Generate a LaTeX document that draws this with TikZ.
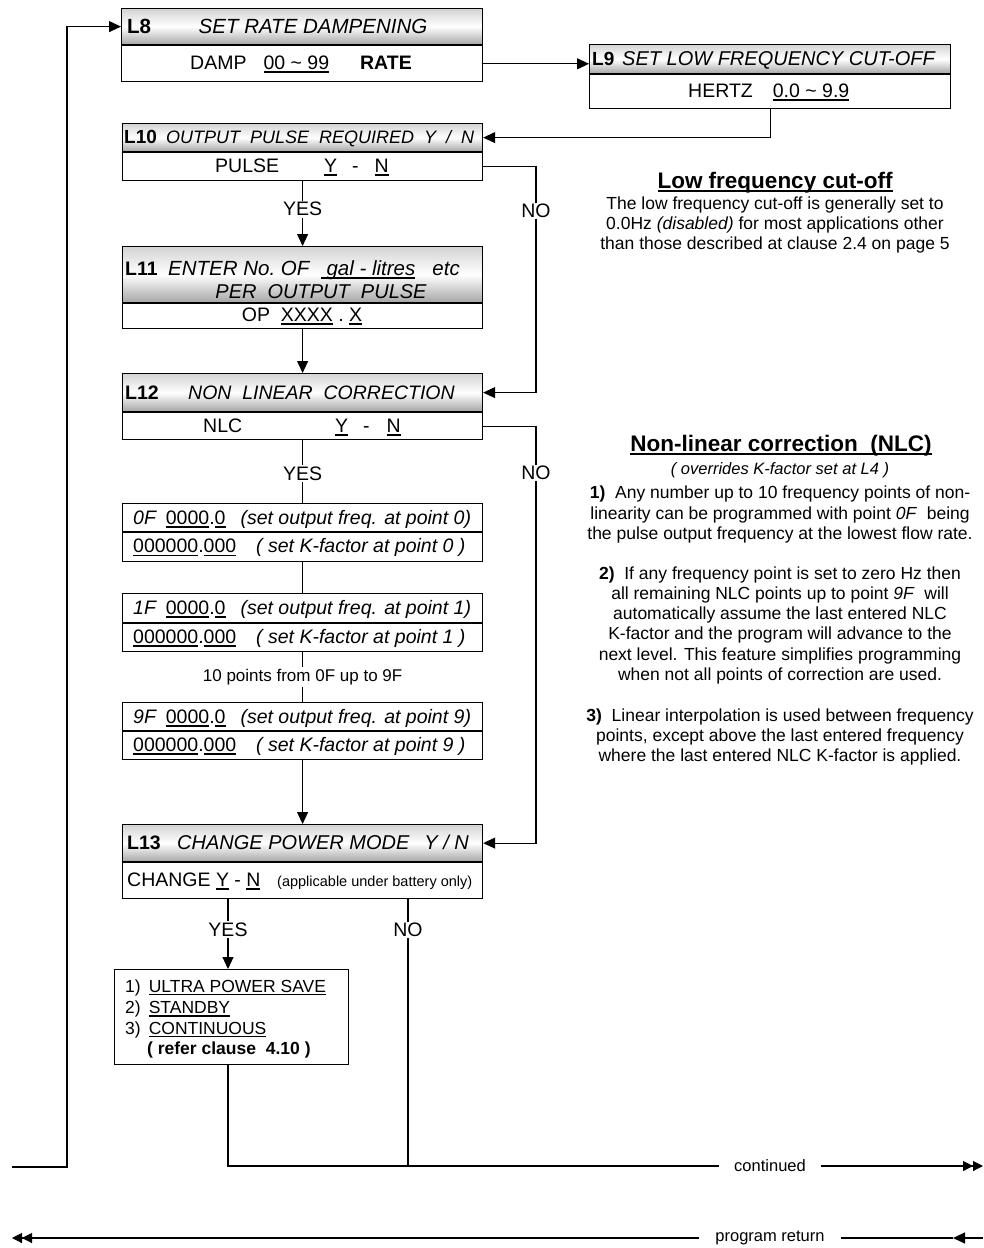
\documentclass[tikz,border=0pt]{standalone}
\usepackage{fontspec}
\setmainfont{Liberation Sans}
\usetikzlibrary{arrows.meta,calc}
\newsavebox\ulbx
\newcommand\ulx[1]{\sbox\ulbx{#1}\rlap{\vrule height -0.11em depth 0.19em width \wd\ulbx}\usebox\ulbx}
\newcommand\fs[1]{\fontsize{#1}{#1}\selectfont}
\tikzset{
 box/.style={draw, line width=1.2pt, inner sep=0pt, anchor=north west, fill=white},
 hbox/.style={box, top color=black!17, bottom color=black!35, middle color=white},
 tx/.style={inner sep=0pt, anchor=base},
 txw/.style={inner sep=0pt, anchor=base west},
 lbl/.style={fill=white, inner sep=1.5pt, font=\fs{19.5}},
 ln/.style={line width=1.1pt},
 arr/.style={ln, -{Triangle[length=12pt,width=11pt]}},
 dtip/.style={ln, -{Triangle[length=10pt,width=10pt]Triangle[length=10pt,width=10pt]}},
}
\begin{document}
\begin{tikzpicture}[x=1pt,y=-1pt]
\fill[white] (0,0) rectangle (983,1248);
\useasboundingbox (0,0) rectangle (983,1248);

% ---------- boxes ----------
\node[hbox, minimum width=361pt, minimum height=36pt] (L8h) at (121,8) {};
\node[box, minimum width=361pt, minimum height=36pt, anchor=north] (L8b) at (L8h.south) {};
\node[hbox, minimum width=361pt, minimum height=29pt] (L9h) at (589,44) {};
\node[box, minimum width=361pt, minimum height=34pt, anchor=north] (L9b) at (L9h.south) {};
\node[hbox, minimum width=360pt, minimum height=28pt] (L10h) at (122,123) {};
\node[box, minimum width=360pt, minimum height=28pt, anchor=north] (L10b) at (L10h.south) {};
\node[hbox, minimum width=360pt, minimum height=56pt] (L11h) at (122,246) {};
\node[box, minimum width=360pt, minimum height=25pt, anchor=north] (L11b) at (L11h.south) {};
\node[hbox, minimum width=360pt, minimum height=38pt] (L12h) at (122,373) {};
\node[box, minimum width=360pt, minimum height=27pt, anchor=north] (L12b) at (L12h.south) {};
\node[box, minimum width=360pt, minimum height=28pt] (F0a) at (122,503) {};
\node[box, minimum width=360pt, minimum height=29pt, anchor=north] (F0b) at (F0a.south) {};
\node[box, minimum width=360pt, minimum height=29pt] (F1a) at (122,593) {};
\node[box, minimum width=360pt, minimum height=28pt, anchor=north] (F1b) at (F1a.south) {};
\node[box, minimum width=360pt, minimum height=28pt] (F9a) at (122,702) {};
\node[box, minimum width=360pt, minimum height=28pt, anchor=north] (F9b) at (F9a.south) {};
\node[hbox, minimum width=360pt, minimum height=37pt] (L13h) at (122,824) {};
\node[box, minimum width=360pt, minimum height=36pt, anchor=north] (L13b) at (L13h.south) {};
\node[box, minimum width=234pt, minimum height=95pt] (PM) at (114,969) {};

% ---------- box texts ----------
\node[txw, font=\fs{20.5}\bfseries] (t8a) at (127,33) {L8};
\node[tx, font=\fs{20.5}\itshape] (t8b) at (313,33) {SET RATE DAMPENING};
\node[txw, font=\fs{19.5}] (t8c) at (190,69) {DAMP\hspace{17pt}\ulx{00 \textasciitilde{} 99}\hspace{31pt}\textbf{RATE}};

\node[txw, font=\fs{19}\bfseries] (t9a) at (592,65) {L9};
\node[txw, font=\fs{20}\itshape] (t9b) at (622,65) {SET LOW FREQUENCY CUT-OFF};
\node[txw, font=\fs{19.5}] (t9c) at (688,97) {HERTZ\hspace{20pt}\ulx{0.0 \textasciitilde{} 9.9}};

\node[txw, font=\fs{19}\bfseries] (t10a) at (124,143.5) {L10};
\node[txw, font=\fs{18}\itshape] (t10b) at (166,143.5) {OUTPUT\ \ PULSE\ \ REQUIRED\ \ Y\ \ /\ \ N};
\node[txw, font=\fs{19.5}] (t10c) at (215,172) {PULSE\hspace{45pt}\ulx{Y}\hspace{15pt}-\hspace{16pt}\ulx{N}};

\node[txw, font=\fs{19.5}\bfseries] (t11a) at (125,275) {L11};
\node[tx, font=\fs{20.5}\itshape] (t11b) at (314,275) {ENTER No.\ OF\ \ \ulx{\ gal - litres}\ \ \ etc};
\node[tx, font=\fs{20}\itshape] (t11c) at (321,298) {PER\ \ OUTPUT\ \ PULSE};
\node[tx, font=\fs{19.5}] (t11d) at (302,321) {OP\ \ \ulx{XXXX}\ .\ \ulx{X}};

\node[txw, font=\fs{19.5}\bfseries] (t12a) at (125,399) {L12};
\node[tx, font=\fs{19.5}\itshape] (t12b) at (321.5,399) {NON\ \ LINEAR\ \ CORRECTION};
\node[txw, font=\fs{19.5}] (t12c) at (203,432) {NLC};
\node[txw, font=\fs{19.5}] (t12d) at (335,432) {\ulx{Y}\hspace{15pt}-\hspace{17pt}\ulx{N}};

\node[txw, font=\fs{19.5}] (tf0a) at (133,524) {\textit{0F}\hspace{9pt}\ulx{0000}.\ulx{0}\hspace{15pt}\textit{(set output freq. at point 0)}};
\node[txw, font=\fs{19.5}] (tf0b) at (133,552.5) {\ulx{000000}.\ulx{000}\hspace{20pt}\textit{( set K-factor at point 0 )}};
\node[txw, font=\fs{19.5}] (tf1a) at (133,614) {\textit{1F}\hspace{9pt}\ulx{0000}.\ulx{0}\hspace{15pt}\textit{(set output freq. at point 1)}};
\node[txw, font=\fs{19.5}] (tf1b) at (133,643) {\ulx{000000}.\ulx{000}\hspace{20pt}\textit{( set K-factor at point 1 )}};
\node[txw, font=\fs{19.5}] (tf9a) at (133,723) {\textit{9F}\hspace{9pt}\ulx{0000}.\ulx{0}\hspace{15pt}\textit{(set output freq. at point 9)}};
\node[txw, font=\fs{19.5}] (tf9b) at (133,751) {\ulx{000000}.\ulx{000}\hspace{20pt}\textit{( set K-factor at point 9 )}};

\node[txw, font=\fs{19.5}\bfseries] (t13a) at (127,849.5) {L13};
\node[txw, font=\fs{20}\itshape] (t13b) at (177,849.5) {CHANGE POWER MODE\hspace{15pt}Y / N};
\node[txw, font=\fs{19.5}] (t13c) at (127,886) {CHANGE \ulx{Y} - \ulx{N}};
\node[txw, font=\fs{14.5}] (t13d) at (277,886) {(applicable under battery only)};

\node[txw, font=\fs{17.5}] (pm1) at (125,992) {1)\hspace{8pt}\ulx{ULTRA POWER SAVE}};
\node[txw, font=\fs{17.5}] (pm2) at (125,1013.5) {2)\hspace{8pt}\ulx{STANDBY}};
\node[txw, font=\fs{17.5}] (pm3) at (125,1034) {3)\hspace{8pt}\ulx{CONTINUOUS}};
\node[txw, font=\fs{17.5}\bfseries] (pm4) at (147,1054) {( refer clause\ \ 4.10 )};

% ---------- coordinates ----------
\coordinate (nx) at (536,0);
\coordinate (yx) at (228,0);
\coordinate (nx2) at (408,0);
\coordinate (lp0) at (12,1167);
\coordinate (lp1) at (67,1167);
\coordinate (jc) at (408,1166);
\coordinate (endC) at (983,1166);
\coordinate (prL) at (12,1238);
\coordinate (prR) at (983,1238);
\coordinate (prM) at (953,1238);

% ---------- bottom texts ----------
\node[font=\fs{16.5}, inner xsep=15pt, inner ysep=0pt] (cont) at (770,1166) {continued};
\node[font=\fs{16.5}, inner xsep=16pt, inner ysep=0pt] (pret) at (770,1238) {program return};

% ---------- connectors ----------
\draw[arr] (lp0) -- (lp1) |- (L8h.west);
\draw[arr] (L8b.east) -- (L8b.east -| L9h.west);
\draw[arr] (L9b.south) |- (L10h.east);
\draw[arr] (L10b.south) -- node[lbl, pos=0.43] (y1) {YES} (L11h.north);
\draw[arr] (L10b.east) -| (nx |- L12h.east) -- (L12h.east);
\draw[arr] (L11b.south) -- (L12h.north);
\draw[ln] (L12b.south) -- node[lbl, pos=0.53] (y2) {YES} (F0a.north);
\draw[arr] (L12b.east) -| (nx |- L13h.east) -- (L13h.east);
\draw[ln] (F0b.south) -- (F1a.north);
\draw[ln] (F1b.south) -- node[lbl, font=\fs{17}, inner sep=2pt] (tenp) {10 points from 0F up to 9F} (F9a.north);
\draw[arr] (F9b.south) -- (L13h.north);
\draw[arr] (yx |- L13b.south) -- node[lbl, pos=0.43] (y3) {YES} (yx |- PM.north);
\draw[ln] (nx2 |- L13b.south) -- node[lbl, pos=0.115] (n3) {NO} (jc);
\draw[ln] (yx |- PM.south) |- (cont.west);
\draw[dtip] (cont.east) -- (endC);
\draw[ln, {Triangle[length=10pt,width=10pt]Triangle[length=10pt,width=10pt]}-] (prL) -- (pret.west);
\draw[arr] (prR) -- (prM);
\draw[ln] (prM) -- (pret.east);
\node[lbl] (n1) at (536,211) {NO};
\node[lbl] (n2) at (536,473) {NO};

% ---------- right notes ----------
\node[tx, font=\fs{22.5}\bfseries] (lfT) at (775,188) {\ulx{Low frequency cut-off}};
\node[tx, font=\fs{17.5}] (lf1) at (775,209.3) {The low frequency cut-off is generally set to};
\node[tx, font=\fs{17.5}] (lf2) at (775,229.3) {0.0Hz \textit{(disabled)} for most applications other};
\node[tx, font=\fs{17.5}] (lf3) at (775,249.3) {than those described at clause 2.4 on page 5};

\node[tx, font=\fs{22.5}\bfseries] (nlT) at (781,451) {\ulx{Non-linear correction\ \ (NLC)}};
\node[tx, font=\fs{16.5}\itshape] (nlS) at (780,474) {( overrides K-factor set at L4 )};
\node[tx, font=\fs{17.5}] (p11) at (780,498.3) {\textbf{1)}\ \ Any number up to 10 frequency points of non-};
\node[tx, font=\fs{17.5}] (p12) at (780,519.3) {linearity can be programmed with point \textit{0F}\ \ being};
\node[tx, font=\fs{17.5}] (p13) at (780,539.3) {the pulse output frequency at the lowest flow rate.};
\node[tx, font=\fs{17.5}] (p21) at (780,579.3) {\textbf{2)}\ \ If any frequency point is set to zero Hz then};
\node[tx, font=\fs{17.5}] (p22) at (780,599.3) {all remaining NLC points up to point \textit{9F}\ \ will};
\node[tx, font=\fs{17.5}] (p23) at (780,619.3) {automatically assume the last entered NLC};
\node[tx, font=\fs{17.5}] (p24) at (780,639.3) {K-factor and the program will advance to the};
\node[tx, font=\fs{17.5}] (p25) at (780,660.3) {next level. This feature simplifies programming};
\node[tx, font=\fs{17.5}] (p26) at (780,680.3) {when not all points of correction are used.};
\node[tx, font=\fs{17.5}] (p31) at (780,721.3) {\textbf{3)}\ \ Linear interpolation is used between frequency};
\node[tx, font=\fs{17.5}] (p32) at (780,741.3) {points, except above the last entered frequency};
\node[tx, font=\fs{17.5}] (p33) at (780,761.3) {where the last entered NLC K-factor is applied.};
\end{tikzpicture}
\end{document}
